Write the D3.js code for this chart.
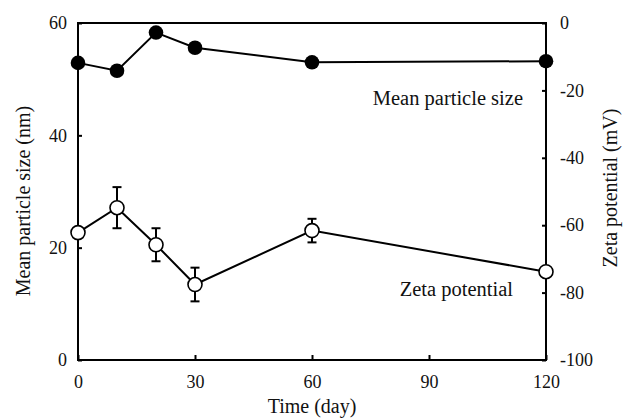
<!DOCTYPE html>
<html><head><meta charset="utf-8">
<script src="https://cdn.jsdelivr.net/npm/d3@7"></script>
<style>
html,body{margin:0;padding:0;background:#fff;}
svg{display:block;font-family:"Liberation Serif","Times New Roman",serif;}
</style></head>
<body>
<svg id="chart" width="624" height="420"></svg>
<script>
const days = [0, 10, 20, 30, 60, 120];
const sizeValues = [52.9, 51.5, 58.3, 55.6, 53.0, 53.2];
const zetaValues = [-62.2, -54.8, -65.8, -77.6, -61.6, -73.8];
const zetaErrors = [0, 6.1, 4.9, 5.0, 3.5, 0];
const xTicks = [0, 30, 60, 90, 120];
const leftTicks = [0, 20, 40, 60];
const rightTicks = [0, -20, -40, -60, -80, -100];

const svg = d3.select("#chart");
const L = 78, R = 546, T = 23, B = 360;
const x = d3.scaleLinear().domain([0, 120]).range([L, R]);
const yL = d3.scaleLinear().domain([0, 60]).range([B, T]);
const yR = d3.scaleLinear().domain([-100, 0]).range([B, T]);

function styleAxis(g){
  g.select(".domain").remove();
  g.selectAll(".tick line").attr("stroke","#000").attr("stroke-width",2);
  g.selectAll(".tick text").attr("fill","#111").style("font-size","18px")
   .style("font-family","'Liberation Serif','Times New Roman',serif");
}

svg.append("g").attr("transform",`translate(0,${B})`)
  .call(d3.axisBottom(x).tickValues(xTicks).tickSize(-5).tickPadding(15).tickFormat(d3.format("d")))
  .call(styleAxis);
svg.append("g").attr("transform",`translate(${L},0)`)
  .call(d3.axisLeft(yL).tickValues(leftTicks).tickSize(-4).tickPadding(11).tickFormat(d3.format("d")))
  .call(styleAxis);
svg.append("g").attr("transform",`translate(${R},0)`)
  .call(d3.axisRight(yR).tickValues(rightTicks).tickSize(-4).tickPadding(14).tickFormat(d => d === 0 ? "0" : "-" + Math.abs(d)))
  .call(styleAxis);

// frame
svg.append("rect").attr("x",L).attr("y",T).attr("width",R-L).attr("height",B-T)
  .attr("fill","none").attr("stroke","#000").attr("stroke-width",2);

const sizeData = days.map((d,i)=>({d, v:sizeValues[i]}));
const zetaData = days.map((d,i)=>({d, v:zetaValues[i], e:zetaErrors[i]}));

svg.append("path").datum(sizeData)
  .attr("d", d3.line().x(p=>x(p.d)).y(p=>yL(p.v)))
  .attr("fill","none").attr("stroke","#000").attr("stroke-width",2);
svg.append("path").datum(zetaData)
  .attr("d", d3.line().x(p=>x(p.d)).y(p=>yR(p.v)))
  .attr("fill","none").attr("stroke","#000").attr("stroke-width",2);

// error bars
const eb = svg.append("g").attr("stroke","#000").attr("stroke-width",2);
zetaData.filter(p=>p.e>0).forEach(p=>{
  const cx = x(p.d), y1 = yR(p.v+p.e), y2 = yR(p.v-p.e);
  eb.append("line").attr("x1",cx).attr("x2",cx).attr("y1",y1).attr("y2",y2);
  eb.append("line").attr("x1",cx-4.5).attr("x2",cx+4.5).attr("y1",y1).attr("y2",y1);
  eb.append("line").attr("x1",cx-4.5).attr("x2",cx+4.5).attr("y1",y2).attr("y2",y2);
});

svg.append("g").selectAll("circle").data(sizeData).join("circle")
  .attr("cx",p=>x(p.d)).attr("cy",p=>yL(p.v)).attr("r",7.3)
  .attr("fill","#000");
svg.append("g").selectAll("circle").data(zetaData).join("circle")
  .attr("cx",p=>x(p.d)).attr("cy",p=>yR(p.v)).attr("r",7)
  .attr("fill","#fff").attr("stroke","#000").attr("stroke-width",1.6);

// series labels
svg.append("text").attr("x",523).attr("y",105).attr("text-anchor","end")
  .style("font-size","20.5px").attr("fill","#111").text("Mean particle size");
svg.append("text").attr("x",513).attr("y",296).attr("text-anchor","end")
  .style("font-size","20.5px").attr("fill","#111").text("Zeta potential");

// axis titles
svg.append("text").attr("x",312).attr("y",413).attr("text-anchor","middle")
  .style("font-size","20px").attr("fill","#111").text("Time (day)");
svg.append("text").attr("transform","translate(30,201) rotate(-90)").attr("text-anchor","middle")
  .style("font-size","20px").attr("fill","#111").text("Mean particle size (nm)");
svg.append("text").attr("transform","translate(617,188) rotate(-90)").attr("text-anchor","middle")
  .style("font-size","20px").attr("fill","#111").text("Zeta potential (mV)");
</script>
</body></html>
